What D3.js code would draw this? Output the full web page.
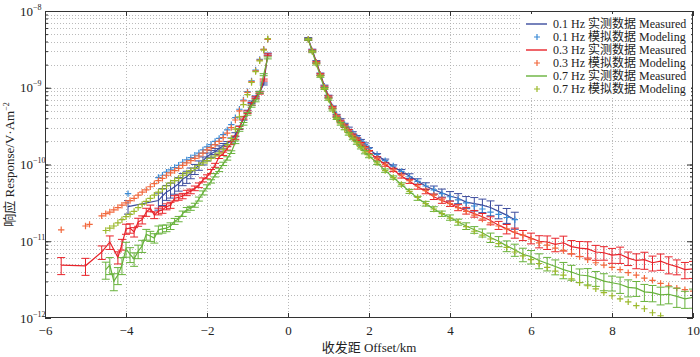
<!DOCTYPE html>
<html><head><meta charset="utf-8">
<script src="https://cdn.jsdelivr.net/npm/d3@7"></script>
<style>
body{margin:0;background:#fff}
svg{display:block}
text{font-family:"Liberation Serif","Times New Roman","Noto Sans CJK SC",serif;fill:#222}
</style>
</head><body>
<svg id="c" width="700" height="357"></svg>
<script>
// ---------- tick labels / legend ----------
const xTicks = [-6,-4,-2,0,2,4,6,8,10];
const yTickExps = [-12,-11,-10,-9,-8];
const legendLabels = [
  "0.1 Hz 实测数据 Measured","0.1 Hz 模拟数据 Modeling",
  "0.3 Hz 实测数据 Measured","0.3 Hz 模拟数据 Modeling",
  "0.7 Hz 实测数据 Measured","0.7 Hz 模拟数据 Modeling"];

// ---------- right side (positive offsets, km) ----------
const offR = [0.5,0.6,0.7,0.8,0.9,1.0,1.1,1.2,1.3,1.4,1.5,1.6,1.7,1.8,1.9,2.0,
  2.2,2.4,2.6,2.8,3.0,3.2,3.4,3.6,3.8,4.0,4.2,4.4,4.6,4.8,5.0,5.2,5.4,5.6,
  5.8,6.0,6.2,6.4,6.6,6.8,7.0,7.2,7.4,7.6,7.8,8.0,8.2,8.4,8.6,8.8,9.0,9.2,9.4,9.6,9.8,10.0];

const meas01R = [4.37e-9,3.09e-9,2.19e-9,1.51e-9,1.05e-9,7.76e-10,5.62e-10,4.37e-10,3.80e-10,3.31e-10,
  2.95e-10,2.57e-10,2.29e-10,2.04e-10,1.82e-10,1.58e-10,
  1.32e-10,1.12e-10,9.33e-11,8.13e-11,7.08e-11,6.03e-11,5.25e-11,4.68e-11,4.27e-11,3.89e-11,
  3.63e-11,3.24e-11,3.09e-11,2.95e-11,2.75e-11,2.45e-11,2.19e-11,1.91e-11];
const err01R = [0.03,0.03,0.03,0.03,0.03,0.03,0.03,0.03,0.04,0.04,0.04,0.04,0.04,0.04,0.05,0.05,
  0.05,0.05,0.06,0.06,0.07,0.08,0.1,0.12,0.12,0.14,0.15,0.18,0.2,0.2,0.22,0.2,0.22,0.25];
const mod01R = [4.27e-9,3.02e-9,2.14e-9,1.48e-9,1.05e-9,7.59e-10,5.62e-10,4.47e-10,3.80e-10,3.31e-10,
  2.88e-10,2.57e-10,2.29e-10,2.04e-10,1.82e-10,1.62e-10,
  1.35e-10,1.12e-10,9.55e-11,8.13e-11,6.92e-11,6.03e-11,5.25e-11,4.68e-11,4.17e-11,3.80e-11,
  3.47e-11,3.16e-11,2.88e-11,2.63e-11,2.40e-11,2.24e-11,2.04e-11,1.91e-11];

const meas03R = [4.27e-9,3.02e-9,2.14e-9,1.48e-9,1.02e-9,7.59e-10,5.50e-10,4.27e-10,3.63e-10,3.16e-10,
  2.75e-10,2.40e-10,2.14e-10,1.86e-10,1.62e-10,1.45e-10,
  1.20e-10,1.00e-10,8.51e-11,7.08e-11,6.03e-11,5.13e-11,4.47e-11,3.80e-11,3.39e-11,3.09e-11,
  2.75e-11,2.51e-11,2.29e-11,2.09e-11,1.86e-11,1.62e-11,1.45e-11,1.29e-11,
  1.20e-11,1.10e-11,1.00e-11,9.77e-12,9.12e-12,9.55e-12,8.51e-12,8.13e-12,7.94e-12,7.24e-12,7.08e-12,
  6.61e-12,6.76e-12,6.03e-12,5.62e-12,5.75e-12,5.25e-12,5.50e-12,5.01e-12,4.68e-12,4.27e-12,4.37e-12];
const err03R = [0.03,0.03,0.03,0.03,0.03,0.03,0.03,0.03,0.04,0.04,0.04,0.04,0.04,0.04,0.05,0.05,
  0.05,0.05,0.05,0.06,0.06,0.07,0.07,0.08,0.08,0.08,0.09,0.1,0.1,0.1,0.12,0.12,0.14,0.15,
  0.15,0.16,0.18,0.2,0.2,0.22,0.2,0.22,0.24,0.22,0.2,0.22,0.24,0.2,0.22,0.25,0.22,0.24,0.25,0.22,0.24,0.25];
const mod03R = [4.27e-9,3.02e-9,2.14e-9,1.48e-9,1.02e-9,7.59e-10,5.50e-10,4.27e-10,3.63e-10,3.16e-10,
  2.75e-10,2.40e-10,2.14e-10,1.86e-10,1.66e-10,1.48e-10,
  1.20e-10,1.00e-10,8.51e-11,7.24e-11,6.17e-11,5.25e-11,4.57e-11,3.98e-11,3.47e-11,3.09e-11,
  2.75e-11,2.45e-11,2.19e-11,1.95e-11,1.74e-11,1.58e-11,1.45e-11,1.32e-11,
  1.20e-11,1.07e-11,9.55e-12,8.91e-12,8.13e-12,7.59e-12,6.92e-12,6.31e-12,5.75e-12,5.25e-12,4.90e-12,
  4.57e-12,4.27e-12,3.89e-12,3.63e-12,3.31e-12,3.09e-12,2.82e-12,2.63e-12,2.45e-12,2.34e-12,2.24e-12];

const meas07R = [4.27e-9,2.95e-9,2.04e-9,1.41e-9,9.77e-10,7.08e-10,5.13e-10,3.98e-10,3.39e-10,2.95e-10,
  2.51e-10,2.19e-10,1.91e-10,1.66e-10,1.45e-10,1.29e-10,
  1.05e-10,8.32e-11,6.76e-11,5.50e-11,4.47e-11,3.63e-11,3.09e-11,2.63e-11,2.29e-11,2.04e-11,
  1.78e-11,1.58e-11,1.41e-11,1.29e-11,1.12e-11,1.00e-11,8.71e-12,7.76e-12,
  6.76e-12,6.31e-12,5.62e-12,5.13e-12,4.68e-12,4.27e-12,3.98e-12,3.63e-12,3.55e-12,3.31e-12,3.02e-12,
  2.88e-12,2.75e-12,2.51e-12,2.45e-12,2.19e-12,2.14e-12,2.00e-12,2.04e-12,1.91e-12,1.78e-12,1.86e-12];
const err07R = [0.03,0.03,0.03,0.03,0.03,0.03,0.03,0.03,0.04,0.04,0.04,0.04,0.04,0.04,0.05,0.05,
  0.05,0.05,0.05,0.05,0.06,0.06,0.07,0.07,0.08,0.08,0.09,0.1,0.1,0.12,0.14,0.15,0.16,0.18,
  0.2,0.2,0.22,0.2,0.22,0.24,0.22,0.2,0.24,0.22,0.25,0.22,0.24,0.25,0.22,0.25,0.24,0.26,0.25,0.28,0.25,0.28];
const mod07R = [4.27e-9,2.95e-9,2.04e-9,1.41e-9,9.77e-10,7.08e-10,5.13e-10,3.98e-10,3.39e-10,2.88e-10,
  2.51e-10,2.19e-10,1.91e-10,1.66e-10,1.45e-10,1.29e-10,
  1.05e-10,8.32e-11,6.76e-11,5.50e-11,4.47e-11,3.72e-11,3.09e-11,2.63e-11,2.29e-11,2.00e-11,
  1.78e-11,1.55e-11,1.35e-11,1.20e-11,1.07e-11,9.33e-12,8.32e-12,7.24e-12,
  6.46e-12,5.75e-12,5.13e-12,4.57e-12,4.07e-12,3.63e-12,3.24e-12,2.88e-12,2.63e-12,2.40e-12,2.14e-12,
  1.95e-12,1.78e-12,1.62e-12,1.45e-12,1.32e-12,1.17e-12,1.07e-12];

// ---------- left side (negative offsets, km) ----------
const offL = [-0.5,-0.6,-0.7,-0.8,-0.9,-1.0,-1.1,-1.2,-1.3,-1.4,-1.5,-1.6,-1.7,-1.8,-1.9,-2.0,
  -2.1,-2.2,-2.3,-2.4,-2.5,-2.6,-2.7,-2.8,-2.9,-3.0,-3.1,-3.2,-3.3,-3.4,-3.5,-3.6,-3.7,-3.8,-3.9,-4.0,
  -4.1,-4.2,-4.3,-4.4,-4.5];
const off01L = [-0.5,-0.6,-0.7,-0.8,-0.9,-1.0,-1.1,-1.2,-1.3,-1.4,-1.5,-1.6,-1.7,-1.8,-1.9,-2.0,
  -2.1,-2.2,-2.3,-2.4,-2.5,-2.6,-2.7,-2.8,-2.9,-3.0,-3.1,-3.2,-3.95];
const meas01L = [2.75e-9,1.12e-9,8.71e-10,7.59e-10,6.46e-10,4.90e-10,3.98e-10,3.02e-10,2.45e-10,2.09e-10,
  1.86e-10,1.74e-10,1.62e-10,1.48e-10,1.38e-10,1.26e-10,1.12e-10,9.77e-11,8.71e-11,7.76e-11,
  6.92e-11,6.46e-11,5.62e-11,5.13e-11,4.68e-11,4.37e-11,3.89e-11,3.39e-11,2.82e-11];
const err01L = [0.03,0.03,0.03,0.03,0.04,0.04,0.05,0.05,0.06,0.06,0.07,0.08,0.08,0.09,0.1,0.12,0.12,0.14,0.15,0.16,
  0.18,0.18,0.2,0.2,0.22,0.22,0.25,0.25,0.2];
const mod01L = [4.27e-9,3.16e-9,2.34e-9,1.70e-9,1.23e-9,8.91e-10,6.92e-10,5.25e-10,4.07e-10,3.31e-10,
  2.82e-10,2.45e-10,2.19e-10,2.00e-10,1.82e-10,1.70e-10,1.55e-10,1.41e-10,1.32e-10,1.23e-10,
  1.15e-10,1.07e-10,9.77e-11,9.12e-11,8.51e-11,7.94e-11,7.24e-11,6.76e-11,4.17e-11];

const off03mL = [-0.5,-0.6,-0.7,-0.8,-0.9,-1.0,-1.1,-1.2,-1.3,-1.4,-1.5,-1.6,-1.7,-1.8,-1.9,-2.0,
  -2.1,-2.2,-2.3,-2.4,-2.5,-2.6,-2.7,-2.8,-2.9,-3.0,-3.1,-3.2,-3.3,-3.4,-3.5,-3.6,-3.7,-3.8,-3.9,-4.0,
  -4.1,-4.2,-4.4,-4.6,-5.0,-5.6];
const meas03L = [2.69e-9,1.26e-9,8.51e-10,7.41e-10,6.17e-10,4.79e-10,4.07e-10,3.02e-10,2.24e-10,1.91e-10,
  1.62e-10,1.38e-10,1.26e-10,9.77e-11,8.13e-11,6.92e-11,6.31e-11,5.37e-11,4.90e-11,4.47e-11,
  4.27e-11,3.89e-11,3.72e-11,3.63e-11,2.95e-11,2.82e-11,2.57e-11,2.45e-11,2.19e-11,2.69e-11,
  2.40e-11,1.91e-11,1.78e-11,1.32e-11,1.48e-11,1.45e-11,9.12e-12,6.17e-12,
  9.77e-12,7.24e-12,4.79e-12,4.90e-12];
const err03L = [0.03,0.03,0.03,0.03,0.04,0.04,0.04,0.04,0.05,0.05,0.05,0.05,0.05,0.06,0.06,0.06,0.06,0.07,0.07,0.07,
  0.08,0.08,0.08,0.08,0.09,0.09,0.1,0.1,0.1,0.1,0.12,0.12,0.12,0.14,0.14,0.15,0.16,0.18,0.2,0.2,0.25,0.25];
const off03sL = [-0.5,-0.6,-0.7,-0.8,-0.9,-1.0,-1.1,-1.2,-1.3,-1.4,-1.5,-1.6,-1.7,-1.8,-1.9,-2.0,
  -2.1,-2.2,-2.3,-2.4,-2.5,-2.6,-2.7,-2.8,-2.9,-3.0,-3.1,-3.2,-3.3,-3.4,-3.5,-3.6,-3.7,-3.8,-3.9,-4.0,
  -4.1,-4.2,-4.3,-4.4,-4.5,-4.6,-4.9,-5.0,-5.6];
const mod03L = [4.27e-9,3.16e-9,2.29e-9,1.66e-9,1.20e-9,8.71e-10,6.76e-10,5.01e-10,3.80e-10,3.02e-10,
  2.57e-10,2.24e-10,2.00e-10,1.82e-10,1.66e-10,1.55e-10,1.41e-10,1.29e-10,1.20e-10,1.12e-10,
  1.05e-10,9.77e-11,8.91e-11,8.32e-11,7.76e-11,7.24e-11,6.61e-11,6.17e-11,5.62e-11,5.13e-11,
  4.68e-11,4.37e-11,3.98e-11,3.63e-11,3.39e-11,3.16e-11,2.95e-11,2.75e-11,2.57e-11,2.40e-11,
  2.29e-11,2.14e-11,1.66e-11,1.58e-11,1.41e-11];

const meas07L = [2.45e-9,1.48e-9,8.71e-10,6.76e-10,5.75e-10,4.57e-10,3.39e-10,2.82e-10,1.95e-10,1.45e-10,
  1.20e-10,1.02e-10,8.51e-11,7.24e-11,6.03e-11,5.13e-11,4.27e-11,3.55e-11,2.95e-11,2.69e-11,
  2.57e-11,2.29e-11,1.95e-11,1.82e-11,1.58e-11,1.48e-11,1.45e-11,1.41e-11,1.10e-11,1.17e-11,
  1.23e-11,8.71e-12,7.41e-12,5.89e-12,6.76e-12,7.94e-12,4.90e-12,3.63e-12,3.02e-12,4.90e-12,4.27e-12];
const err07L = [0.03,0.03,0.03,0.03,0.03,0.04,0.04,0.04,0.04,0.04,0.05,0.05,0.05,0.05,0.05,0.06,0.06,0.06,0.06,0.06,
  0.07,0.08,0.08,0.09,0.1,0.1,0.12,0.12,0.14,0.15,0.16,0.18,0.2,0.2,0.22,0.22,0.25,0.25,0.25,0.25,0.25];
const mod07L = [4.37e-9,3.09e-9,2.24e-9,1.62e-9,1.17e-9,8.13e-10,6.03e-10,4.17e-10,2.88e-10,2.19e-10,
  1.82e-10,1.58e-10,1.41e-10,1.29e-10,1.20e-10,1.12e-10,1.05e-10,9.77e-11,8.91e-11,8.32e-11,
  7.76e-11,7.24e-11,6.61e-11,6.17e-11,5.75e-11,5.25e-11,4.79e-11,4.37e-11,3.98e-11,3.63e-11,
  3.31e-11,3.02e-11,2.75e-11,2.45e-11,2.24e-11,2.09e-11,1.91e-11,1.74e-11,1.58e-11,1.48e-11,1.38e-11];

// ---------- colours ----------
const colors = {m01:"#3c4c9e", s01:"#3a8ad6", m03:"#e8232a", s03:"#f2683c", m07:"#68b23c", s07:"#9cb92c"};

// ---------- drawing ----------
const svg = d3.select("#c");
const M = {l:45, r:693, t:11, b:318};
const x = d3.scaleLinear().domain([-6,10]).range([M.l, M.r]);
const y = d3.scaleLog().domain([1e-12,1e-8]).range([M.b, M.t]);

svg.append("rect").attr("width",700).attr("height",357).attr("fill","#fff");

// grid
const allY = y.ticks();
const inner = allY.slice(1, allY.length-1);
const grid = svg.append("g");
grid.selectAll("line.h").data(inner).join("line").attr("class","h")
  .attr("x1",M.l).attr("x2",M.r).attr("y1",d=>Math.round(y(d))+0.5).attr("y2",d=>Math.round(y(d))+0.5)
  .attr("stroke","#a8a8a8").attr("stroke-width",0.8).attr("stroke-dasharray","1,2");
grid.selectAll("line.v").data(xTicks.slice(1,-1)).join("line").attr("class","v")
  .attr("y1",M.t).attr("y2",M.b).attr("x1",d=>Math.round(x(d))+0.5).attr("x2",d=>Math.round(x(d))+0.5)
  .attr("stroke","#a8a8a8").attr("stroke-width",0.8).attr("stroke-dasharray","1,2");

// clip
svg.append("clipPath").attr("id","clip").append("rect")
  .attr("x",M.l).attr("y",M.t).attr("width",M.r-M.l).attr("height",M.b-M.t);
const plot = svg.append("g").attr("clip-path","url(#clip)");

function zip(offs, vals, errs){ return vals.map((v,i)=>({o:offs[i], v, e: errs ? errs[i] : 0})); }
function drawMeasured(pts, color){
  plot.append("path").datum(pts)
    .attr("d", d3.line().x(d=>x(d.o)).y(d=>y(d.v)))
    .attr("fill","none").attr("stroke",color).attr("stroke-width",1.2);
  const eb = plot.append("g").attr("stroke",color).attr("stroke-width",1).attr("fill","none");
  eb.selectAll("path").data(pts).join("path").attr("d", d=>{
    const cx = x(d.o), y1 = y(d.v*(1+d.e)), y2 = y(d.v*(1-d.e));
    return `M${cx},${y1}V${y2}M${cx-4},${y1}H${cx+4}M${cx-4},${y2}H${cx+4}`;
  });
}
function plus(cx, cy, s){ return `M${cx-s},${cy}H${cx+s}M${cx},${cy-s}V${cy+s}`; }
function drawModel(pts, color){
  plot.append("g").attr("stroke",color).attr("stroke-width",1.2).attr("fill","none")
    .selectAll("path").data(pts).join("path").attr("d", d=>plus(x(d.o), y(d.v), 3.2));
}

drawMeasured(zip(offR, meas01R, err01R), colors.m01);
drawMeasured(zip(off01L, meas01L, err01L), colors.m01);
drawModel(zip(offR, mod01R), colors.s01);
drawModel(zip(off01L, mod01L), colors.s01);
drawMeasured(zip(offR, meas03R, err03R), colors.m03);
drawMeasured(zip(off03mL, meas03L, err03L), colors.m03);
drawModel(zip(offR, mod03R), colors.s03);
drawModel(zip(off03sL, mod03L), colors.s03);
drawMeasured(zip(offR, meas07R, err07R), colors.m07);
drawMeasured(zip(offL, meas07L, err07L), colors.m07);
drawModel(zip(offR, mod07R), colors.s07);
drawModel(zip(offL, mod07L), colors.s07);

// axes
function styleAxis(g){ g.select(".domain").remove(); g.selectAll(".tick line").attr("stroke","#333"); g.selectAll("text").attr("font-size",13).attr("fill","#222").attr("font-family",'"Liberation Serif","Times New Roman",serif'); }
const fmtX = d => d < 0 ? "\u2212" + Math.abs(d) : String(d);
svg.append("g").attr("transform",`translate(0,${M.b})`)
  .call(d3.axisBottom(x).tickValues(xTicks).tickSize(-5).tickPadding(8).tickFormat(fmtX)).call(styleAxis);
svg.append("g").attr("transform",`translate(0,${M.t})`)
  .call(d3.axisTop(x).tickValues(xTicks).tickSize(-5).tickFormat("")).call(styleAxis);
const majors = yTickExps.map(e => Math.pow(10, e));
svg.append("g").attr("transform",`translate(${M.l},0)`)
  .call(d3.axisLeft(y).tickValues(majors).tickSize(-6).tickFormat("")).call(styleAxis);
svg.append("g").attr("transform",`translate(${M.l},0)`)
  .call(d3.axisLeft(y).tickValues(inner).tickSize(-3).tickFormat("")).call(styleAxis);
svg.append("g").attr("transform",`translate(${M.r},0)`)
  .call(d3.axisRight(y).tickValues(majors).tickSize(-6).tickFormat("")).call(styleAxis);
svg.append("g").attr("transform",`translate(${M.r},0)`)
  .call(d3.axisRight(y).tickValues(inner).tickSize(-3).tickFormat("")).call(styleAxis);

// y tick labels 10^n
yTickExps.forEach(e => {
  const t = svg.append("text").attr("x",20).attr("y",y(Math.pow(10,e))).attr("dy","0.35em").attr("font-size",13);
  t.append("tspan").text("10");
  t.append("tspan").attr("font-size",8).attr("dy",-6).text("\u2212" + Math.abs(e));
});

// frame
svg.append("rect").attr("x",M.l+0.5).attr("y",M.t+0.5).attr("width",M.r-M.l-1).attr("height",M.b-M.t-1)
  .attr("fill","none").attr("stroke","#333").attr("stroke-width",1);

// axis titles
svg.append("text").attr("x",(M.l+M.r)/2).attr("y",352).attr("text-anchor","middle").attr("font-size",13)
  .text("收发距 Offset/km");
const yl = svg.append("text").attr("transform",`translate(14,${(M.t+M.b)/2}) rotate(-90)`)
  .attr("text-anchor","middle").attr("font-size",13);
yl.append("tspan").text("响应 Response/V·Am");
yl.append("tspan").attr("font-size",8).attr("dy",-5).text("\u22122");

// legend
const lg = svg.append("g");
lg.append("rect").attr("x",521).attr("y",14).attr("width",170).attr("height",84).attr("fill","#fff");
const legColors = [colors.m01, colors.s01, colors.m03, colors.s03, colors.m07, colors.s07];
legendLabels.forEach((lab, i) => {
  const yy = 24 + i*13;
  if (i % 2 === 0) {
    lg.append("line").attr("x1",526).attr("x2",547).attr("y1",yy).attr("y2",yy)
      .attr("stroke",legColors[i]).attr("stroke-width",1.4);
  } else {
    lg.append("path").attr("d",plus(537,yy,3)).attr("stroke",legColors[i]).attr("stroke-width",1.2);
  }
  lg.append("text").attr("x",553).attr("y",yy).attr("dy","0.35em").attr("font-size",12).text(lab);
});
</script>
</body></html>
